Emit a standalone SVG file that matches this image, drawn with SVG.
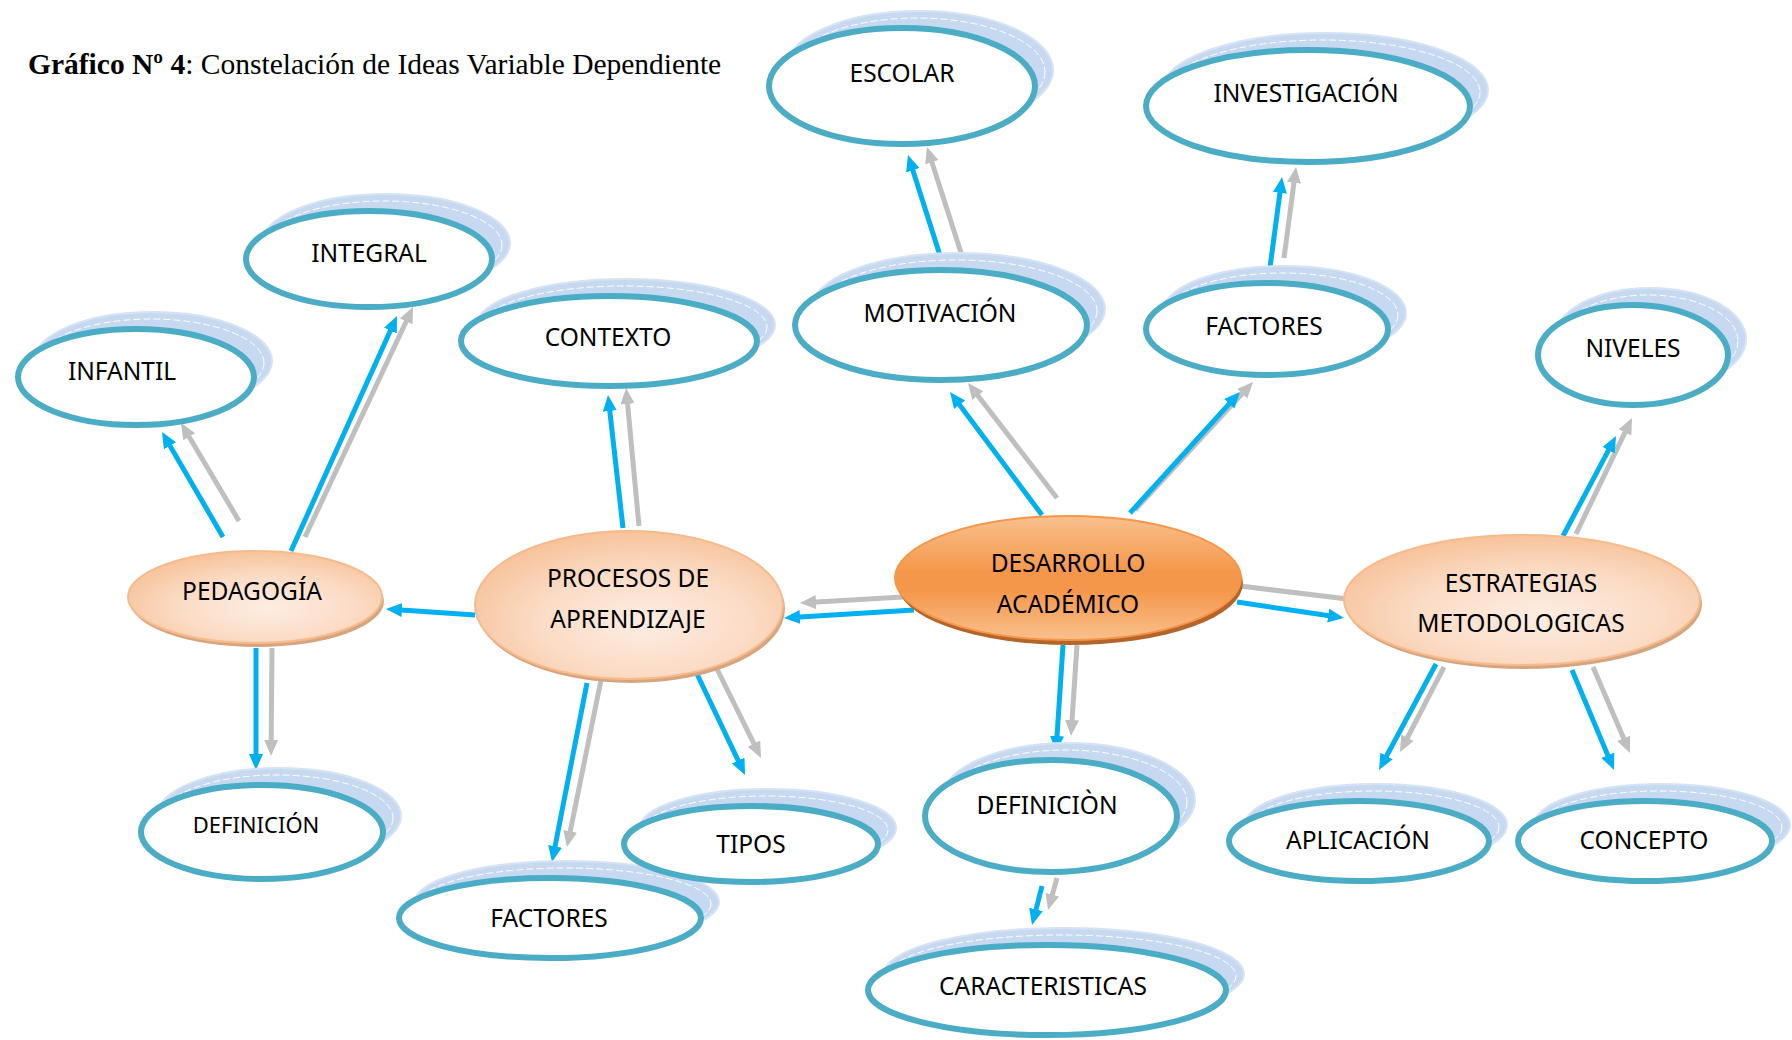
<svg xmlns="http://www.w3.org/2000/svg" width="1792" height="1040" viewBox="0 0 1792 1040">
<defs>
<style>
.title{font-family:"Liberation Serif","Times New Roman",serif;font-size:29.5px;fill:#000}
.lbl{font-family:"Noto Sans","Open Sans",sans-serif;font-size:24.5px;fill:#000;text-anchor:middle}
.shadow{fill:#C6D9F1;stroke:#D6E3F5;stroke-width:2}
.hl{fill:none;stroke:#fff;stroke-width:1;stroke-dasharray:7 3}
.out{fill:#fff;stroke:#4BACC6;stroke-width:6}
.peach{fill:url(#gPeach);stroke:#F7BA8A;stroke-width:2}
.peachsh{fill:#D6A57F}
.core{fill:url(#gCore);stroke:#F79646;stroke-width:2}
.coresh{fill:#B4652A}
.b{stroke:#00B0F0;stroke-width:5;fill:none;marker-end:url(#ab)}
.g{stroke:#BFBFBF;stroke-width:5;fill:none;marker-end:url(#ag)}
</style>
<radialGradient id="gPeach" cx="55%" cy="62%" r="62%">
<stop offset="0" stop-color="#FDEDE2"/>
<stop offset="0.55" stop-color="#FBDCC6"/>
<stop offset="1" stop-color="#F7C39B"/>
</radialGradient>
<linearGradient id="gCore" x1="0" y1="0" x2="0" y2="1">
<stop offset="0" stop-color="#F9C08F"/>
<stop offset="0.45" stop-color="#F5974A"/>
<stop offset="0.6" stop-color="#F5974A"/>
<stop offset="1" stop-color="#F9C08F"/>
</linearGradient>
<marker id="ab" markerUnits="userSpaceOnUse" markerWidth="18" markerHeight="16" refX="8" refY="7" orient="auto"><path d="M0,0 L16,7 L0,14 z" fill="#00B0F0"/></marker>
<marker id="ag" markerUnits="userSpaceOnUse" markerWidth="18" markerHeight="16" refX="8" refY="7" orient="auto"><path d="M0,0 L16,7 L0,14 z" fill="#BFBFBF"/></marker>
</defs>
<rect width="1792" height="1040" fill="#fff"/>
<text class="title" x="28" y="74"><tspan font-weight="bold">Gráfico Nº 4</tspan>: Constelación de Ideas Variable Dependiente</text>

<g id="connectors">
<line class="g" x1="1057" y1="498" x2="972.9" y2="389.3"/>
<line class="b" x1="1042" y1="515" x2="954.8" y2="398.4"/>
<line class="g" x1="1135" y1="510" x2="1247.6" y2="387.9"/>
<line class="b" x1="1130" y1="513" x2="1234.6" y2="397.9"/>
<line class="g" x1="903" y1="597" x2="808" y2="602.5"/>
<line class="b" x1="914" y1="610" x2="792" y2="617.5"/>
<line class="g" x1="1240" y1="586" x2="1364" y2="601"/>
<line class="b" x1="1237" y1="602" x2="1336.1" y2="616.8"/>
<line class="g" x1="1077" y1="645" x2="1071.5" y2="728"/>
<line class="b" x1="1063" y1="645" x2="1056.5" y2="744"/>
<line class="g" x1="1057" y1="878" x2="1050.2" y2="902.3"/>
<line class="b" x1="1042" y1="886" x2="1034" y2="917.3"/>
<line class="b" x1="475" y1="615" x2="394" y2="609.5"/>
<line class="g" x1="639" y1="526" x2="626.8" y2="396"/>
<line class="b" x1="623" y1="528" x2="608.9" y2="403"/>
<line class="g" x1="601" y1="680" x2="568.6" y2="839.2"/>
<line class="b" x1="587" y1="683" x2="553.5" y2="854.2"/>
<line class="g" x1="717" y1="669" x2="757.5" y2="750.8"/>
<line class="b" x1="697" y1="674" x2="741.6" y2="767.8"/>
<line class="g" x1="239" y1="521" x2="185.1" y2="429.9"/>
<line class="b" x1="223" y1="537" x2="166" y2="438.9"/>
<line class="g" x1="305" y1="537" x2="409.6" y2="314.2"/>
<line class="b" x1="291" y1="551" x2="393.7" y2="323.3"/>
<line class="g" x1="272" y1="648" x2="271.1" y2="748"/>
<line class="b" x1="256" y1="648" x2="256" y2="762"/>
<line class="g" x1="964" y1="262" x2="929.4" y2="154.6"/>
<line class="b" x1="944" y1="268" x2="910.4" y2="162.6"/>
<line class="g" x1="1284" y1="258" x2="1295" y2="174.9"/>
<line class="b" x1="1269" y1="275" x2="1281" y2="184.9"/>
<line class="g" x1="1576" y1="534" x2="1628.5" y2="425.2"/>
<line class="b" x1="1563" y1="536" x2="1612.3" y2="443.1"/>
<line class="g" x1="1444" y1="667" x2="1403.7" y2="744.9"/>
<line class="b" x1="1436" y1="664" x2="1382.8" y2="763"/>
<line class="g" x1="1593" y1="667" x2="1626.8" y2="745.6"/>
<line class="b" x1="1572" y1="670" x2="1610.9" y2="762.6"/>
</g>

<g id="n-escolar">
<ellipse class="shadow" cx="919" cy="70" rx="134" ry="59"/>
<ellipse class="hl" cx="917" cy="72" rx="128" ry="54"/>
<ellipse class="out" cx="902" cy="86" rx="133" ry="58"/>
<text class="lbl" x="902" y="82">ESCOLAR</text>
</g>
<g id="n-investigacion">
<ellipse class="shadow" cx="1325" cy="90" rx="163" ry="57"/>
<ellipse class="hl" cx="1323" cy="92" rx="157" ry="52"/>
<ellipse class="out" cx="1308" cy="106" rx="162" ry="56"/>
<text class="lbl" x="1306" y="102">INVESTIGACIÓN</text>
</g>
<g id="n-integral">
<ellipse class="shadow" cx="386" cy="243" rx="124" ry="49"/>
<ellipse class="hl" cx="384" cy="245" rx="118" ry="44"/>
<ellipse class="out" cx="369" cy="259" rx="123" ry="48"/>
<text class="lbl" x="369" y="262">INTEGRAL</text>
</g>
<g id="n-infantil">
<ellipse class="shadow" cx="153" cy="361" rx="119" ry="49"/>
<ellipse class="hl" cx="151" cy="363" rx="113" ry="44"/>
<ellipse class="out" cx="136" cy="377" rx="118" ry="48"/>
<text class="lbl" x="122" y="380">INFANTIL</text>
</g>
<g id="n-contexto">
<ellipse class="shadow" cx="626" cy="325" rx="149" ry="46"/>
<ellipse class="hl" cx="624" cy="327" rx="143" ry="41"/>
<ellipse class="out" cx="609" cy="341" rx="148" ry="45"/>
<text class="lbl" x="608" y="346">CONTEXTO</text>
</g>
<g id="n-motivacion">
<ellipse class="shadow" cx="958" cy="309" rx="147" ry="56"/>
<ellipse class="hl" cx="956" cy="311" rx="141" ry="51"/>
<ellipse class="out" cx="941" cy="325" rx="146" ry="55"/>
<text class="lbl" x="940" y="322">MOTIVACIÓN</text>
</g>
<g id="n-factores1">
<ellipse class="shadow" cx="1284" cy="313" rx="122" ry="47"/>
<ellipse class="hl" cx="1282" cy="315" rx="116" ry="42"/>
<ellipse class="out" cx="1267" cy="329" rx="121" ry="46"/>
<text class="lbl" x="1264" y="335">FACTORES</text>
</g>
<g id="n-niveles">
<ellipse class="shadow" cx="1650" cy="339" rx="96" ry="51"/>
<ellipse class="hl" cx="1648" cy="341" rx="90" ry="46"/>
<ellipse class="out" cx="1633" cy="355" rx="95" ry="50"/>
<text class="lbl" x="1633" y="357">NIVELES</text>
</g>
<g id="n-definicion1">
<ellipse class="shadow" cx="279" cy="816" rx="122" ry="48"/>
<ellipse class="hl" cx="277" cy="818" rx="116" ry="43"/>
<ellipse class="out" cx="262" cy="832" rx="121" ry="47"/>
<text class="lbl" x="256" y="833" style="font-size:22px">DEFINICIÓN</text>
</g>
<g id="n-factores2">
<ellipse class="shadow" cx="567" cy="902" rx="152" ry="41"/>
<ellipse class="hl" cx="565" cy="904" rx="146" ry="36"/>
<ellipse class="out" cx="550" cy="918" rx="151" ry="40"/>
<text class="lbl" x="549" y="927">FACTORES</text>
</g>
<g id="n-tipos">
<ellipse class="shadow" cx="768" cy="828" rx="128" ry="39"/>
<ellipse class="hl" cx="766" cy="830" rx="122" ry="34"/>
<ellipse class="out" cx="751" cy="844" rx="127" ry="38"/>
<text class="lbl" x="751" y="853">TIPOS</text>
</g>
<g id="n-definicion2">
<ellipse class="shadow" cx="1068" cy="800" rx="127" ry="57"/>
<ellipse class="hl" cx="1066" cy="802" rx="121" ry="52"/>
<ellipse class="out" cx="1051" cy="816" rx="126" ry="56"/>
<text class="lbl" x="1047" y="814">DEFINICIÒN</text>
</g>
<g id="n-caracteristicas">
<ellipse class="shadow" cx="1064" cy="974" rx="180" ry="46"/>
<ellipse class="hl" cx="1062" cy="976" rx="174" ry="41"/>
<ellipse class="out" cx="1047" cy="990" rx="179" ry="45"/>
<text class="lbl" x="1043" y="995">CARACTERISTICAS</text>
</g>
<g id="n-aplicacion">
<ellipse class="shadow" cx="1376" cy="825" rx="131" ry="41"/>
<ellipse class="hl" cx="1374" cy="827" rx="125" ry="36"/>
<ellipse class="out" cx="1359" cy="841" rx="130" ry="40"/>
<text class="lbl" x="1358" y="849">APLICACIÓN</text>
</g>
<g id="n-concepto">
<ellipse class="shadow" cx="1662" cy="825" rx="128" ry="41"/>
<ellipse class="hl" cx="1660" cy="827" rx="122" ry="36"/>
<ellipse class="out" cx="1645" cy="841" rx="127" ry="40"/>
<text class="lbl" x="1644" y="849">CONCEPTO</text>
</g>

<g id="n-pedagogia">
<ellipse class="peachsh" cx="257" cy="601" rx="127" ry="46"/>
<ellipse class="peach" cx="255" cy="597" rx="127" ry="46"/>
<text class="lbl" x="252" y="600">PEDAGOGÍA</text>
</g>
<g id="n-procesos">
<ellipse class="peachsh" cx="631" cy="609" rx="154" ry="74"/>
<ellipse class="peach" cx="629" cy="605" rx="154" ry="74"/>
<text class="lbl" x="628" y="587">PROCESOS DE</text>
<text class="lbl" x="628" y="628">APRENDIZAJE</text>
</g>
<g id="n-desarrollo">
<ellipse class="coresh" cx="1070" cy="583" rx="173" ry="62"/>
<ellipse class="core" cx="1068" cy="578" rx="173" ry="62"/>
<text class="lbl" x="1068" y="572">DESARROLLO</text>
<text class="lbl" x="1068" y="613">ACADÉMICO</text>
</g>
<g id="n-estrategias">
<ellipse class="peachsh" cx="1524" cy="604" rx="178" ry="65"/>
<ellipse class="peach" cx="1522" cy="600" rx="178" ry="65"/>
<text class="lbl" x="1521" y="592">ESTRATEGIAS</text>
<text class="lbl" x="1521" y="632">METODOLOGICAS</text>
</g>
</svg>
